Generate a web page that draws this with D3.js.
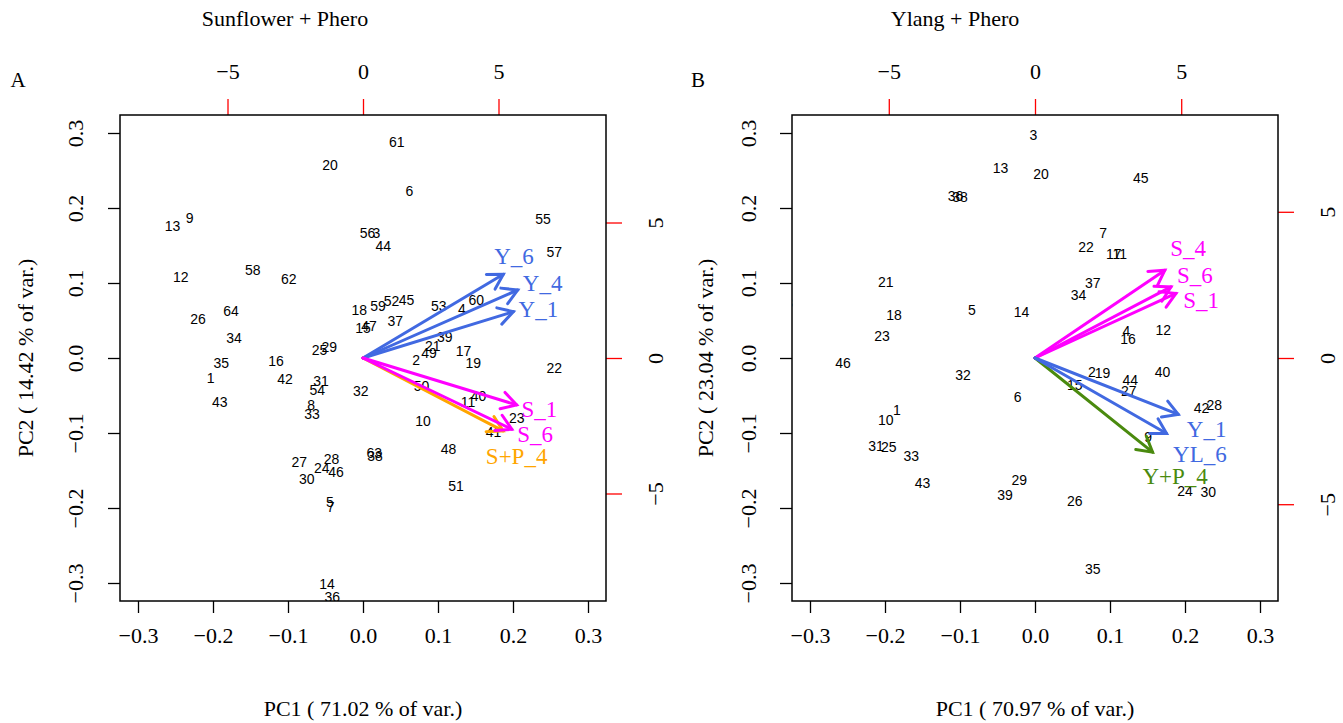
<!DOCTYPE html>
<html>
<head>
<meta charset="utf-8">
<script src="https://cdn.jsdelivr.net/npm/d3@7"></script>
<style>
  html, body { margin: 0; padding: 0; background: #fff; }
  svg { display: block; }
</style>
</head>
<body>
<svg id="fig" width="1343" height="723"></svg>
<script>
// ---- Shared axis ticks ----
const pcTicks = [-0.3, -0.2, -0.1, 0.0, 0.1, 0.2, 0.3];
const varTicks = [-5, 0, 5];

// ---- Panel A: Sunflower + Phero ----
const sunTitle = "Sunflower + Phero";
const sunXLab = "PC1 ( 71.02 % of var.)";
const sunYLab = "PC2 ( 14.42 % of var.)";
const sunIds = ["1","2","3","4","5","6","7","8","9","10","11","12","13","14","15","16",
  "17","18","19","20","21","22","23","24","25","26","27","28","29","30","31","32",
  "33","34","35","36","37","38","39","40","41","42","43","44","45","46","47","48",
  "49","50","51","52","53","54","55","56","57","58","59","60","61","62","63","64"];
const sunPC1 = [-0.203, 0.071, 0.018, 0.132, -0.044, 0.062, -0.043, -0.069, -0.231, 0.080,
  0.140, -0.243, -0.254, -0.048, 0.000, -0.116, 0.134, -0.005, 0.147, -0.044,
  0.093, 0.255, 0.205, -0.055, -0.058, -0.220, -0.085, -0.042, -0.045, -0.075,
  -0.056, -0.003, -0.068, -0.172, -0.189, -0.041, 0.043, 0.016, 0.109, 0.154,
  0.174, -0.104, -0.191, 0.027, 0.058, -0.036, 0.008, 0.114, 0.088, 0.078,
  0.124, 0.038, 0.101, -0.061, 0.240, 0.006, 0.255, -0.147, 0.020, 0.151,
  0.045, -0.099, 0.015, -0.176];
const sunPC2 = [-0.026, -0.003, 0.167, 0.066, -0.192, 0.223, -0.198, -0.063, 0.187, -0.084,
  -0.058, 0.108, 0.176, -0.301, 0.040, -0.004, 0.009, 0.064, -0.007, 0.258,
  0.016, -0.013, -0.080, -0.146, 0.011, 0.052, -0.138, -0.134, 0.015, -0.161,
  -0.031, -0.044, -0.075, 0.027, -0.006, -0.318, 0.050, -0.131, 0.028, -0.051,
  -0.098, -0.028, -0.058, 0.149, 0.077, -0.152, 0.043, -0.121, 0.007, -0.037,
  -0.171, 0.076, 0.070, -0.043, 0.186, 0.167, 0.141, 0.117, 0.070, 0.077,
  0.288, 0.106, -0.126, 0.063];
const sunVars = ["Y_6", "Y_4", "Y_1", "S+P_4", "S_1", "S_6"];
const sunLoad1 = [5.18, 5.71, 5.55, 5.17, 5.67, 5.49];
const sunLoad2 = [3.09, 2.51, 1.71, -2.69, -1.73, -2.63];
const sunLabel1 = [5.57, 6.63, 6.47, 5.67, 6.51, 6.35];
const sunLabel2 = [3.76, 2.75, 1.79, -3.62, -1.90, -2.82];

// ---- Panel B: Ylang + Phero ----
const ylTitle = "Ylang + Phero";
const ylXLab = "PC1 ( 70.97 % of var.)";
const ylYLab = "PC2 ( 23.04 % of var.)";
const ylIds = ["1","2","3","4","5","6","7","8","9","10","11","12","13","14","15","16",
  "17","18","19","20","21","22","23","24","25","26","27","28","29","30","31","32",
  "33","34","35","36","37","38","39","40","42","43","44","45","46"];
const ylPC1 = [-0.184, 0.076, -0.002, 0.122, -0.084, -0.023, 0.091, -0.328, 0.151, -0.199,
  0.113, 0.171, -0.046, -0.018, 0.053, 0.124, 0.105, -0.188, 0.090, 0.008,
  -0.199, 0.068, -0.204, 0.200, -0.195, 0.053, 0.125, 0.239, -0.021, 0.231,
  -0.212, -0.096, -0.165, 0.058, 0.077, -0.106, 0.077, -0.100, -0.040, 0.170,
  0.222, -0.150, 0.127, 0.141, -0.256];
const ylPC2 = [-0.069, -0.019, 0.297, 0.036, 0.064, -0.052, 0.167, 0.074, -0.105, -0.083,
  0.139, 0.037, 0.254, 0.062, -0.036, 0.025, 0.139, 0.057, -0.020, 0.246,
  0.102, 0.148, 0.030, -0.177, -0.118, -0.191, -0.044, -0.063, -0.162, -0.178,
  -0.117, -0.022, -0.130, 0.084, -0.281, 0.216, 0.100, 0.215, -0.182, -0.019,
  -0.067, -0.167, -0.029, 0.240, -0.006];
const ylVars = ["S_4", "S_6", "S_1", "Y+P_4", "YL_6", "Y_1"];
const ylLoad1 = [4.44, 4.65, 4.82, 4.02, 4.50, 4.90];
const ylLoad2 = [3.00, 2.43, 2.21, -3.22, -2.58, -1.93];
const ylLabel1 = [5.24, 5.47, 5.68, 4.79, 5.64, 5.87];
const ylLabel2 = [3.73, 2.83, 1.98, -4.06, -3.30, -2.44];

// ---- Drawing ----
const SERIF = "'Liberation Serif', 'Times New Roman', serif";
const SANS = "'Liberation Sans', Arial, sans-serif";
const svg = d3.select("#fig");

function varColor(name) {
  if (name.startsWith("S+P")) return "#FFA500";
  if (name.startsWith("Y+P")) return "#4A8A0E";
  if (name.startsWith("S")) return "#FF00FF";
  return "#4169E1";
}
const fmtTick = d => (d < 0 ? "\u2212" : "") + Math.abs(d).toFixed(1);
const fmtVar = d => (d < 0 ? "\u2212" : "") + Math.abs(d);

function drawPanel(cfg) {
  const { left, right, top, bottom, pcLim, varLim } = cfg;
  const g = svg.append("g");
  const x = d3.scaleLinear().domain([-pcLim, pcLim]).range([left, right]);
  const y = d3.scaleLinear().domain([-pcLim, pcLim]).range([bottom, top]);
  const xv = d3.scaleLinear().domain([-varLim, varLim]).range([left, right]);
  const yv = d3.scaleLinear().domain([-varLim, varLim]).range([bottom, top]);

  const clipId = "clip-" + cfg.letter;
  svg.append("defs").append("clipPath").attr("id", clipId)
    .append("rect").attr("x", left).attr("y", top)
    .attr("width", right - left).attr("height", bottom - top);

  // sample labels (scores)
  const pts = cfg.ids.map((id, i) => ({ id, a: cfg.pc1[i], b: cfg.pc2[i] }));
  g.append("g").attr("clip-path", `url(#${clipId})`)
    .selectAll("text").data(pts).join("text")
    .attr("x", d => x(d.a)).attr("y", d => y(d.b))
    .attr("text-anchor", "middle").attr("dominant-baseline", "central")
    .attr("font-family", SANS).attr("font-size", 14).attr("fill", "#000")
    .text(d => d.id);

  // primary axes (bottom, left)
  const bottomAx = d3.axisBottom(x).tickValues(pcTicks).tickFormat(fmtTick).tickSize(12).tickPadding(14);
  const ba = g.append("g").attr("transform", `translate(0,${bottom})`).call(bottomAx);
  const leftAx = d3.axisLeft(y).tickValues(pcTicks).tickFormat(fmtTick).tickSize(12);
  const la = g.append("g").attr("transform", `translate(${left},0)`).call(leftAx);
  la.selectAll(".tick text")
    .attr("transform", `translate(${cfg.leftLabelX - left},0) rotate(-90)`)
    .attr("x", 0).attr("dy", "0.35em").attr("text-anchor", "middle");

  // secondary axes (top, right) for loadings
  const topAx = d3.axisTop(xv).tickValues(varTicks).tickFormat(fmtVar).tickSize(16).tickPadding(20);
  const ta = g.append("g").attr("transform", `translate(0,${top})`).call(topAx);
  const rightAx = d3.axisRight(yv).tickValues(varTicks).tickFormat(fmtVar).tickSize(16);
  const ra = g.append("g").attr("transform", `translate(${right},0)`).call(rightAx);
  ra.selectAll(".tick text")
    .attr("transform", `translate(${cfg.rightLabelX - right},0) rotate(-90)`)
    .attr("x", 0).attr("dy", "0.35em").attr("text-anchor", "middle");

  [ba, la, ta, ra].forEach(a => {
    a.select(".domain").remove();
    a.selectAll(".tick text").attr("font-family", SERIF).attr("font-size", 22).attr("fill", "#000");
  });
  [ba, la].forEach(a => a.selectAll(".tick line").attr("stroke", "#000").attr("stroke-width", 1.3));
  [ta, ra].forEach(a => a.selectAll(".tick line").attr("stroke", "#FF0000").attr("stroke-width", 1.3));

  // loading arrows
  const arrows = cfg.vars.map((v, i) => ({
    v, a: cfg.load1[i], b: cfg.load2[i], la: cfg.lab1[i], lb: cfg.lab2[i]
  }));
  const ag = g.append("g").attr("clip-path", `url(#${clipId})`);
  const x0 = xv(0), y0 = yv(0);
  const headLen = 17, headAng = Math.PI / 6;
  cfg.drawOrder.forEach(k => {
    const d = arrows[k];
    const col = varColor(d.v);
    const tx = xv(d.a), ty = yv(d.b);
    const ang = Math.atan2(ty - y0, tx - x0);
    ag.append("line").attr("x1", x0).attr("y1", y0).attr("x2", tx).attr("y2", ty)
      .attr("stroke", col).attr("stroke-width", 3).attr("stroke-linecap", "round");
    const p1 = [tx - headLen * Math.cos(ang - headAng), ty - headLen * Math.sin(ang - headAng)];
    const p2 = [tx - headLen * Math.cos(ang + headAng), ty - headLen * Math.sin(ang + headAng)];
    ag.append("path").attr("d", `M${p1[0]},${p1[1]}L${tx},${ty}L${p2[0]},${p2[1]}`)
      .attr("fill", "none").attr("stroke", col).attr("stroke-width", 3)
      .attr("stroke-linecap", "round").attr("stroke-linejoin", "miter");
  });
  ag.selectAll("text.vlab").data(arrows).join("text").attr("class", "vlab")
    .attr("x", d => xv(d.la)).attr("y", d => yv(d.lb))
    .attr("text-anchor", "middle").attr("dominant-baseline", "central")
    .attr("font-family", SERIF).attr("font-size", 23)
    .attr("fill", d => varColor(d.v)).text(d => d.v);

  // plot frame
  g.append("rect").attr("x", left).attr("y", top)
    .attr("width", right - left).attr("height", bottom - top)
    .attr("fill", "none").attr("stroke", "#000").attr("stroke-width", 1.5);

  // titles and labels
  g.append("text").attr("x", cfg.titleX).attr("y", 18).attr("text-anchor", "middle")
    .attr("dominant-baseline", "central").attr("font-family", SERIF).attr("font-size", 22)
    .text(cfg.title);
  g.append("text").attr("x", cfg.letterX).attr("y", 80).attr("text-anchor", "middle")
    .attr("dominant-baseline", "central").attr("font-family", SERIF).attr("font-size", 21)
    .text(cfg.letter);
  g.append("text").attr("x", (left + right) / 2).attr("y", 708).attr("text-anchor", "middle")
    .attr("dominant-baseline", "central").attr("font-family", SERIF).attr("font-size", 22)
    .text(cfg.xlab);
  g.append("text").attr("transform", `translate(${cfg.ylabX},${(top + bottom) / 2}) rotate(-90)`)
    .attr("text-anchor", "middle").attr("dominant-baseline", "central")
    .attr("font-family", SERIF).attr("font-size", 22).text(cfg.ylab);
}

drawPanel({
  letter: "A", left: 120, right: 606, top: 115, bottom: 601,
  pcLim: 0.324, varLim: 8.967,
  leftLabelX: 75, rightLabelX: 655, ylabX: 25, titleX: 285, letterX: 18,
  title: sunTitle, xlab: sunXLab, ylab: sunYLab,
  ids: sunIds, pc1: sunPC1, pc2: sunPC2,
  vars: sunVars, load1: sunLoad1, load2: sunLoad2, lab1: sunLabel1, lab2: sunLabel2,
  drawOrder: [0, 1, 2, 3, 4, 5]
});
drawPanel({
  letter: "B", left: 792, right: 1278, top: 115, bottom: 601,
  pcLim: 0.324, varLim: 8.31,
  leftLabelX: 748, rightLabelX: 1327, ylabX: 705, titleX: 955, letterX: 698,
  title: ylTitle, xlab: ylXLab, ylab: ylYLab,
  ids: ylIds, pc1: ylPC1, pc2: ylPC2,
  vars: ylVars, load1: ylLoad1, load2: ylLoad2, lab1: ylLabel1, lab2: ylLabel2,
  drawOrder: [0, 1, 2, 3, 4, 5]
});
</script>
</body>
</html>
